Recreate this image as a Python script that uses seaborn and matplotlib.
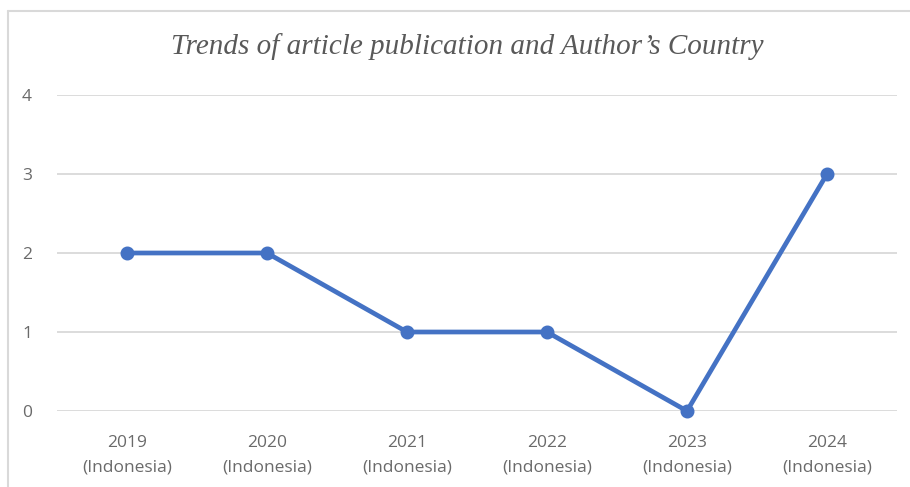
import matplotlib
matplotlib.use("Agg")
import matplotlib.pyplot as plt
import seaborn as sns
import pandas as pd
from matplotlib.lines import Line2D

years = ["2019", "2020", "2021", "2022", "2023", "2024"]
countries = ["Indonesia"] * 6
values = [2, 2, 1, 1, 0, 3]
yticks = [0, 1, 2, 3, 4]
title = "Trends of article publication and Author\u2019s Country"

labels = [f"{y}\n({c})" for y, c in zip(years, countries)]
df = pd.DataFrame({"label": labels, "value": values})

sns.set_theme(style="white")
plt.rcParams["font.family"] = ["Open Sans", "DejaVu Sans"]

fig = plt.figure(figsize=(9.10, 4.87), dpi=100)
ax = fig.add_axes([57/910, 1-411/487, (897-57)/910, (411-95)/487])

sns.pointplot(data=df, x="label", y="value", ax=ax, color="#4472C4",
              markers="o", linewidth=3.4, markersize=7.5, errorbar=None)
for art in list(ax.lines) + list(ax.collections):
    art.set_clip_on(False)

ax.set_ylim(0, 4)
ax.set_xlim(-0.5, len(labels) - 0.5)
ax.set_yticks(yticks)
ax.set_yticklabels([str(t) for t in yticks])
ax.yaxis.grid(True, color="#D9D9D9", linewidth=1.3)
ax.set_axisbelow(True)
for s in ax.spines.values():
    s.set_visible(False)
ax.set_xlabel("")
ax.set_ylabel("")
ax.tick_params(axis="both", length=0, colors="#6A6A6A", labelsize=12.5)
ax.tick_params(axis="x", pad=17)
ax.tick_params(axis="y", pad=18)
for lbl in ax.get_xticklabels():
    lbl.set_linespacing(1.7)

fig.text(467/910, 1-47/487, title, ha="center", va="center",
         fontsize=21, style="italic", color="#595959",
         family=["Liberation Serif", "DejaVu Serif"])

fig.add_artist(Line2D([8/910, 8/910], [0, 1-11/487], transform=fig.transFigure,
                      color="#D9D9D9", linewidth=1.5))
fig.add_artist(Line2D([8/910, 1], [1-11/487, 1-11/487], transform=fig.transFigure,
                      color="#D9D9D9", linewidth=1.5))

fig.savefig("out.png", dpi=100)
